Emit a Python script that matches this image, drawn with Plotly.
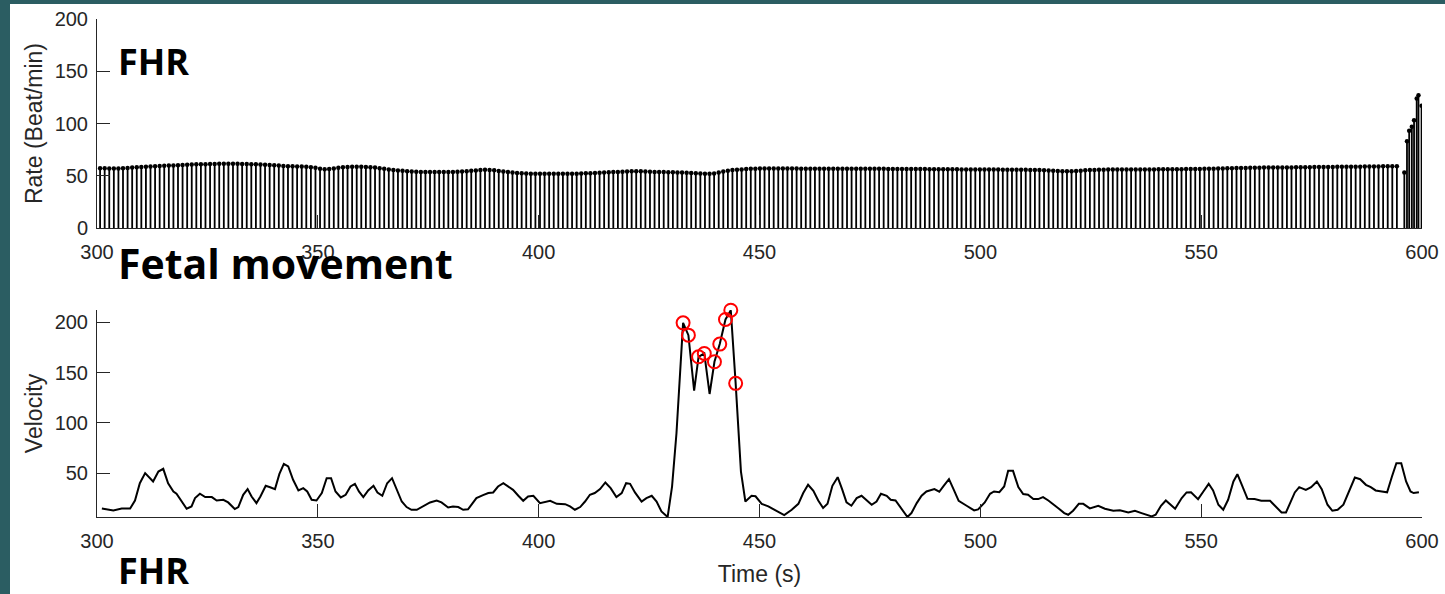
import numpy as np
import plotly.graph_objects as go

# ---------------- data ----------------
# FHR stems (regular beats): heights
fhr_rate = [
    57.2, 57.1, 57.0, 56.9, 57.0, 57.2, 57.5, 57.8, 58.1, 58.4,
    58.7, 58.9, 59.1, 59.3, 59.5, 59.7, 59.9, 60.1, 60.3, 60.5,
    60.7, 60.9, 61.0, 61.1, 61.2, 61.3, 61.4, 61.5, 61.5, 61.5,
    61.4, 61.3, 61.2, 61.0, 60.9, 60.7, 60.5, 60.3, 60.0, 59.7,
    59.4, 59.2, 59.0, 58.9, 58.8, 58.6, 58.2, 57.6, 56.8, 56.3,
    56.4, 57.0, 57.6, 58.1, 58.4, 58.6, 58.6, 58.5, 58.4, 58.2,
    57.8, 57.2, 56.6, 56.0, 55.5, 55.1, 54.8, 54.4, 54.1, 53.9,
    53.7, 53.6, 53.6, 53.5, 53.5, 53.6, 53.7, 53.7, 53.8, 54.0,
    54.3, 54.7, 55.1, 55.5, 55.7, 55.6, 55.2, 54.6, 54.0, 53.5,
    53.0, 52.6, 52.3, 52.1, 52.0, 51.9, 51.9, 51.9, 52.0, 52.0,
    52.0, 52.0, 51.9, 51.9, 52.0, 52.1, 52.3, 52.5, 52.7, 52.9,
    53.1, 53.3, 53.5, 53.7, 53.9, 54.1, 54.2, 54.3, 54.2, 54.0,
    53.8, 53.7, 53.6, 53.5, 53.4, 53.3, 53.2, 53.0, 52.8, 52.6,
    52.4, 52.2, 52.0, 51.9, 52.2, 53.0, 54.0, 54.8, 55.4, 55.8,
    56.1, 56.4, 56.6, 56.8, 56.9, 57.0, 57.0, 57.0, 57.0, 56.9,
    56.9, 56.9, 56.9, 56.8, 56.8, 56.8, 56.8, 56.8, 56.8, 56.8,
    56.7, 56.7, 56.7, 56.7, 56.7, 56.6, 56.6, 56.6, 56.6, 56.6,
    56.6, 56.6, 56.5, 56.5, 56.5, 56.5, 56.5, 56.4, 56.4, 56.4,
    56.4, 56.3, 56.3, 56.3, 56.3, 56.2, 56.2, 56.2, 56.1, 56.1,
    56.0, 56.0, 56.0, 55.9, 55.9, 55.9, 55.9, 55.8, 55.8, 55.8,
    55.8, 55.7, 55.7, 55.6, 55.5, 55.4, 55.2, 55.0, 54.8, 54.6,
    54.4, 54.3, 54.4, 54.6, 54.9, 55.2, 55.4, 55.6, 55.7, 55.8,
    55.9, 55.9, 56.0, 56.0, 56.0, 56.0, 56.0, 56.1, 56.1, 56.1,
    56.1, 56.2, 56.2, 56.2, 56.3, 56.3, 56.3, 56.4, 56.4, 56.5,
    56.5, 56.6, 56.7, 56.8, 56.9, 57.0, 57.1, 57.2, 57.3, 57.4,
    57.5, 57.6, 57.7, 57.7, 57.8, 57.8, 57.9, 57.9, 58.0, 58.0,
    58.0, 58.1, 58.1, 58.2, 58.2, 58.3, 58.3, 58.3, 58.4, 58.4,
    58.5, 58.5, 58.6, 58.6, 58.7, 58.7, 58.8, 58.8, 58.9, 58.9,
    59.0, 59.0, 59.0, 59.0,
]
fhr_first_beat = 300.7   # s
fhr_beat_step = 1.0375   # s between regular beats

# final burst of fast beats
burst_time = [596.0, 596.6, 597.1, 597.7, 598.2, 598.8, 599.2, 599.9]
burst_rate = [53, 83, 93, 97, 103, 124, 127, 117]

# Fetal movement velocity
vel_time = [
    301.1, 303.7, 305.6, 307.5, 308.6, 309.7, 310.9, 312.7, 313.9, 315.0,
    316.1, 317.3, 318.0, 319.2, 320.3, 321.4, 322.2, 323.3, 324.5, 326.0,
    327.1, 328.6, 329.7, 331.2, 332.0, 333.1, 334.1, 335.0, 336.1, 337.0,
    338.2, 339.2, 340.3, 341.3, 342.3, 343.3, 344.4, 345.6, 346.7, 347.6,
    348.6, 349.7, 350.9, 352.0, 353.0, 354.0, 355.2, 356.3, 357.4, 358.4,
    359.3, 360.3, 361.4, 362.6, 363.5, 364.6, 365.7, 366.8, 367.8, 369.0,
    370.1, 371.2, 372.4, 373.9, 375.4, 376.9, 378.0, 379.5, 380.6, 381.8,
    382.9, 384.0, 385.9, 387.4, 388.6, 389.7, 390.8, 392.0, 393.1, 394.2,
    395.4, 396.5, 397.6, 398.8, 400.3, 402.6, 404.1, 406.0, 407.1, 408.2,
    409.4, 410.5, 411.6, 412.7, 413.9, 415.1, 416.3, 417.6, 418.8, 419.8,
    420.7, 421.8, 423.3, 424.4, 425.6, 426.7, 427.8, 429.2, 430.2, 431.2,
    432.7, 433.9, 435.2, 436.2, 437.5, 438.7, 439.8, 441.0, 442.3, 443.5,
    444.6, 445.8, 446.8, 448.2, 449.1, 450.5, 452.0, 453.9, 455.6, 457.3,
    458.8, 459.9, 461.0, 462.2, 463.3, 464.4, 465.4, 466.5, 467.7, 468.7,
    469.7, 470.8, 472.0, 473.1, 474.2, 475.4, 476.5, 477.5, 478.8, 479.7,
    480.8, 482.1, 483.5, 484.4, 485.6, 486.7, 487.8, 489.6, 490.7, 491.7,
    492.9, 494.0, 495.1, 496.9, 498.6, 499.5, 501.0, 502.2, 503.1, 504.3,
    505.4, 506.3, 507.4, 508.6, 509.7, 510.8, 512.0, 513.1, 514.2, 515.4,
    516.5, 517.8, 519.0, 519.9, 521.0, 522.3, 523.3, 524.8, 526.7, 528.2,
    530.1, 531.6, 533.5, 535.0, 536.5, 538.8, 539.7, 540.9, 542.0, 544.1,
    545.6, 546.7, 547.7, 549.3, 550.5, 551.7, 552.7, 553.9, 555.0, 556.1,
    557.3, 558.2, 559.3, 560.5, 562.1, 563.6, 565.6, 567.1, 568.2, 569.2,
    570.3, 571.2, 572.2, 573.7, 574.9, 576.2, 577.3, 578.6, 579.7, 580.9,
    582.2, 583.5, 584.8, 586.0, 587.3, 588.4, 589.5, 590.9, 592.1, 593.2,
    594.2, 595.3, 596.4, 597.4, 598.1, 599.3,
]
vel_value = [
    14.9, 12.9, 14.9, 14.9, 22.8, 40.0, 50.0, 41.7, 51.6, 54.3,
    40.0, 31.8, 29.5, 21.8, 14.6, 16.9, 25.2, 29.5, 26.2, 26.2,
    22.8, 23.5, 20.9, 14.3, 16.3, 28.5, 34.1, 26.8, 20.2, 26.8,
    37.4, 36.0, 34.1, 49.3, 59.2, 56.6, 43.4, 32.8, 35.1, 31.8,
    23.5, 22.8, 30.2, 45.0, 45.0, 31.8, 25.8, 28.5, 36.7, 39.4,
    31.8, 26.2, 32.8, 37.4, 30.8, 27.5, 40.0, 45.0, 35.1, 21.8,
    16.3, 13.6, 13.6, 17.6, 20.9, 22.8, 20.9, 15.9, 16.9, 16.3,
    13.6, 14.0, 25.2, 28.2, 30.2, 30.8, 36.7, 40.0, 36.7, 33.4,
    27.5, 22.5, 26.8, 27.5, 20.2, 22.5, 19.5, 19.2, 16.9, 13.6,
    16.3, 21.8, 28.5, 30.2, 34.1, 40.7, 35.1, 26.2, 30.2, 40.0,
    39.4, 30.8, 21.8, 25.2, 27.5, 21.8, 11.9, 6.4, 36.7, 89.7,
    199.4, 187.2, 132.0, 165.7, 169.0, 128.7, 160.7, 178.3, 202.8, 212.0,
    139.3, 51.6, 21.8, 27.5, 27.0, 19.5, 16.9, 11.9, 8.3, 13.6,
    19.5, 30.2, 38.4, 32.4, 22.8, 15.3, 19.5, 37.4, 46.0, 34.1,
    20.9, 17.6, 25.2, 27.5, 22.8, 18.6, 21.8, 29.5, 27.5, 23.5,
    22.8, 14.3, 6.4, 10.3, 20.2, 27.5, 31.8, 34.1, 31.5, 37.4,
    44.0, 33.4, 22.5, 17.6, 12.9, 14.0, 20.9, 29.5, 31.8, 31.0,
    36.7, 52.3, 52.3, 36.1, 29.2, 28.5, 24.2, 24.2, 26.2, 22.8,
    18.6, 14.6, 10.3, 8.6, 12.6, 19.5, 19.5, 15.0, 17.6, 14.6,
    12.6, 13.0, 10.9, 12.6, 10.3, 7.0, 8.6, 17.6, 22.8, 14.6,
    25.2, 30.8, 31.0, 24.2, 31.8, 39.4, 32.8, 18.6, 13.6, 23.5,
    41.7, 49.0, 37.4, 24.5, 24.2, 22.5, 22.5, 15.3, 10.9, 10.9,
    20.9, 30.8, 36.1, 33.4, 36.1, 41.7, 34.1, 18.6, 12.6, 13.6,
    18.6, 31.8, 45.6, 44.0, 38.4, 36.1, 32.8, 31.8, 31.0, 46.6,
    59.9, 59.9, 41.7, 31.8, 30.2, 31.0,
]

# detected movement peaks (red circles)
peak_time = [432.7, 433.9, 436.2, 437.5, 439.8, 441.0, 442.3, 443.5, 444.6]
peak_value = [199.4, 187.2, 165.7, 169.0, 160.7, 178.3, 202.8, 212.0, 139.3]

x_ticks = [300, 350, 400, 450, 500, 550, 600]
fhr_ticks = [0, 50, 100, 150, 200]
vel_ticks = [50, 100, 150, 200]

# ---------------- layout helpers ----------------
W, H = 1445, 594
L, R, T, B = 97, 23, 19, 77
PW, PH = W - L - R, H - T - B


def px(x):
    return (x - L) / PW


def py(y):
    return (H - B - y) / PH


INK = "#262626"
TEAL = "#2b5d62"
TICK_FONT = dict(family="Liberation Sans, Arial", size=20, color=INK)
LABEL_FONT = dict(family="Liberation Sans, Arial", size=23, color=INK)

fhr_time = fhr_first_beat + fhr_beat_step * np.arange(len(fhr_rate))
all_t = list(fhr_time) + burst_time
all_r = list(fhr_rate) + burst_rate

stem_x, stem_y = [], []
for t, r in zip(all_t, all_r):
    stem_x += [t, t, None]
    stem_y += [0, r, None]

fig = go.Figure()
fig.add_trace(go.Scatter(x=stem_x, y=stem_y, mode="lines",
                         line=dict(color="black", width=1.8),
                         xaxis="x", yaxis="y", hoverinfo="skip"))
fig.add_trace(go.Scatter(x=all_t, y=all_r, mode="markers",
                         marker=dict(color="black", size=4.5),
                         xaxis="x", yaxis="y"))
fig.add_trace(go.Scatter(x=vel_time, y=vel_value, mode="lines",
                         line=dict(color="black", width=2),
                         xaxis="x2", yaxis="y2", cliponaxis=False))
fig.add_trace(go.Scatter(x=peak_time, y=peak_value, mode="markers",
                         marker=dict(symbol="circle-open", size=13,
                                     color="#ff0000", line=dict(width=2, color="#ff0000")),
                         xaxis="x2", yaxis="y2", cliponaxis=False))

axis_common = dict(showline=True, linecolor=INK, linewidth=1,
                   ticks="inside", ticklen=13, tickwidth=1, tickcolor=INK,
                   showgrid=False, zeroline=False, tickfont=TICK_FONT)

fig.update_layout(
    width=W, height=H,
    margin=dict(l=L, r=R, t=T, b=B, autoexpand=False),
    paper_bgcolor=TEAL, plot_bgcolor="white",
    showlegend=False,
    xaxis=dict(domain=[0, 1], range=[300, 600], tickvals=x_ticks,
               anchor="y", ticklabelstandoff=6, **axis_common),
    yaxis=dict(domain=[py(228), 1], range=[0, 200], tickvals=fhr_ticks,
               anchor="x", ticklabelstandoff=4,
               title=dict(text="Rate (Beat/min)", standoff=5, font=LABEL_FONT),
               **axis_common),
    xaxis2=dict(domain=[0, 1], range=[300, 600], tickvals=x_ticks,
                anchor="y2", ticklabelstandoff=6,
                title=dict(text="Time (s)", standoff=14, font=LABEL_FONT),
                **axis_common),
    yaxis2=dict(domain=[0, py(310)], range=[6.4, 212.2], tickvals=vel_ticks,
                anchor="x2", ticklabelstandoff=4,
                title=dict(text="Velocity", standoff=5, font=LABEL_FONT),
                **axis_common),
    shapes=[dict(type="rect", xref="paper", yref="paper", layer="below",
                 x0=px(10), x1=px(W + 5), y0=py(H + 5), y1=py(4),
                 fillcolor="white", line=dict(width=0))],
    annotations=[
        dict(text="<b>FHR</b>", xref="paper", yref="paper", x=px(116), y=py(62),
             xanchor="left", yanchor="middle", showarrow=False,
             font=dict(family="Open Sans", size=36, color="black")),
        dict(text="<b>Fetal movement</b>", xref="paper", yref="paper", x=px(116), y=py(263),
             xanchor="left", yanchor="middle", showarrow=False,
             font=dict(family="Open Sans", size=41, color="black")),
        dict(text="<b>FHR</b>", xref="paper", yref="paper", x=px(116), y=py(570),
             xanchor="left", yanchor="middle", showarrow=False,
             font=dict(family="Open Sans", size=36, color="black")),
    ],
)

fig.write_html(
    "out.html",
    config={"displayModeBar": False},
    post_script="document.body.style.margin='0';document.body.style.overflow='hidden';",
)
